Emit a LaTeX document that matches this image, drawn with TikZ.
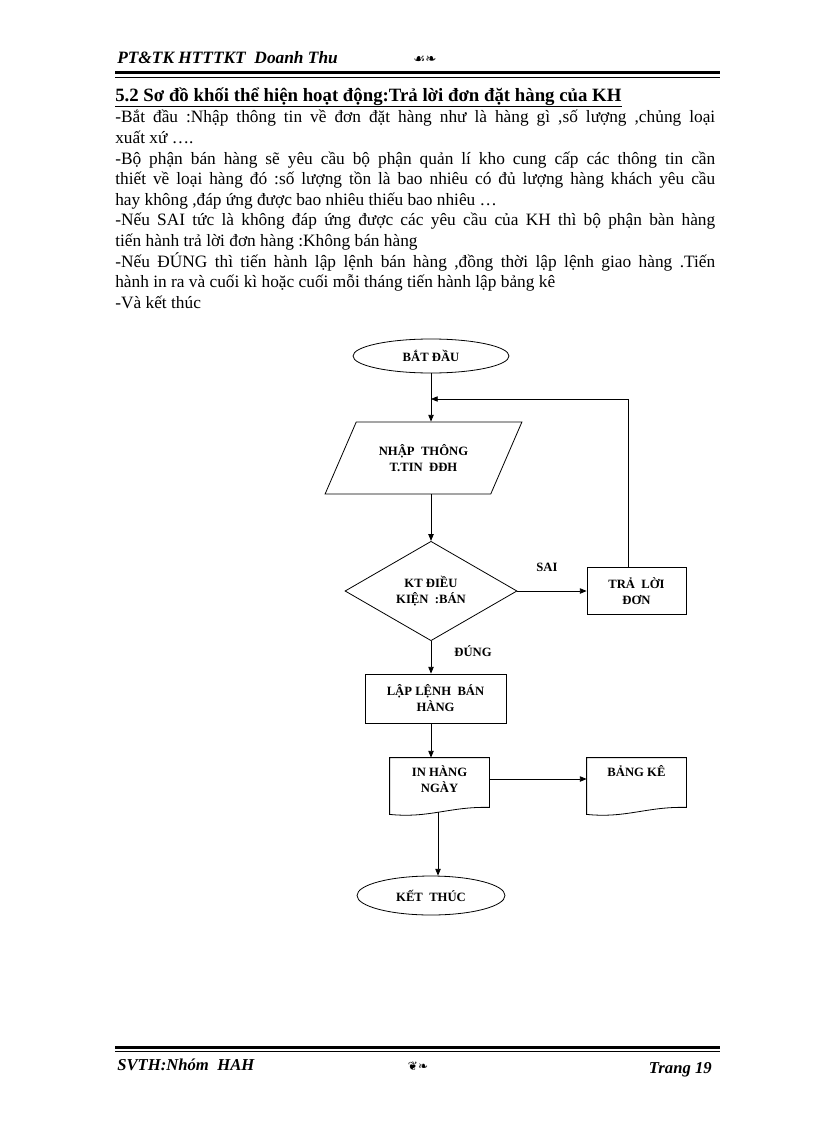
\documentclass[tikz,border=0pt]{standalone}
\usepackage{fontspec}
\setmainfont{Liberation Serif}
\newfontfamily\dejavu{DejaVu Sans}
\usetikzlibrary{calc,positioning,shapes.geometric,arrows.meta}
\tikzset{
	box/.style={draw, line width=0.6pt, font=\fontsize{9.5}{12}\selectfont\bfseries, align=center, inner sep=2pt},
	terminal/.style={box, ellipse},
	docbox/.style={box, draw=none},
	flow/.style={line width=0.6pt, -{Triangle[length=5pt,width=4pt]}},
	lbl/.style={font=\fontsize{9.5}{12}\selectfont\bfseries},
	rule/.style={line width=2.25pt},
	thinrule/.style={line width=0.5pt},
	pagetext/.style={font=\fontsize{12.5}{14}\selectfont\bfseries\itshape}
}

\begin{document}
\begin{tikzpicture}[x=0.75pt,y=-0.75pt]
	\useasboundingbox[fill=white] (0,0) rectangle (816,1123);

	\node[pagetext, font=\fontsize{13}{15}\selectfont\bfseries\itshape, anchor=base west, inner sep=0] (head) at (117,64) {PT\&TK HTTTKT\ \ Doanh Thu};
	\node[font=\dejavu\fontsize{10}{12}\selectfont] (headorn) at (425,60) {☙❧};
	\draw[rule] (115,73) -- (720,73);
	\draw[thinrule] (115,77.5) -- (720,77.5);

	\node[anchor=base west, inner sep=0, font=\fontsize{14.1}{16}\selectfont\bfseries] (title) at (115,102) {5.2 Sơ đồ khối thể hiện hoạt động:Trả\ lời đơn\ đặt hàng của KH};
	\draw[line width=0.9pt] ($(title.base west)+(0,4.5)$) -- ($(title.base east)+(0,4.5)$);
	\node[anchor=base west, inner sep=0] (body) at (115,123) {\parbox[t]{450pt}{\fontsize{13}{15.45}\selectfont
		\makebox[\linewidth][s]{-Bắt đầu :Nhập thông tin về đơn đặt hàng như là hàng gì ,số lượng ,chủng loại}\\
		xuất xứ ….\\
		\makebox[\linewidth][s]{-Bộ phận bán hàng sẽ yêu cầu bộ phận quản lí kho cung cấp các thông tin cần}\\
		\makebox[\linewidth][s]{thiết về loại hàng đó :số lượng tồn là bao nhiêu có đủ lượng hàng khách yêu cầu}\\
		hay không ,đáp ứng được bao nhiêu thiếu bao nhiêu …\\
		\makebox[\linewidth][s]{-Nếu SAI tức là không đáp ứng được các yêu cầu của KH thì bộ phận bàn hàng}\\
		tiến hành trả lời đơn hàng :Không\ bán hàng\\
		\makebox[\linewidth][s]{-Nếu ĐÚNG thì tiến hành lập lệnh bán hàng ,đồng thời lập lệnh giao hàng .Tiến}\\
		hành in ra và cuối kì hoặc cuối mỗi tháng tiến hành lập bảng kê\\
		-Và kết thúc}};

	\node[terminal, minimum width=117pt, minimum height=25.5pt] (start) at (431,356) {BẮT ĐẦU};
	\node[box, trapezium, trapezium left angle=56, trapezium right angle=124, trapezium stretches=true, minimum width=147.75pt, minimum height=54pt] (input) at (423.5,458) {NHẬP\ \ THÔNG\\T.TIN\ \ ĐĐH};
	\node[box, diamond, minimum width=129pt, minimum height=71.25pt, inner sep=0pt] (check) at (431,591) {KT ĐIỀU\\KIỆN\ \ :BÁN};
	\node[box, minimum width=74.25pt, minimum height=35.25pt] (reply) at (636.5,591) {TRẢ\ \ LỜI\\ĐƠN};
	\node[box, minimum width=105.75pt, minimum height=36.75pt] (order) at (435.5,698.5) {LẬP\ LỆNH\ \ BÁN\\HÀNG};
	\node[docbox, minimum width=74.25pt, minimum height=31.5pt] (daily) at (439.5,779) {IN HÀNG\\NGÀY};
	\node[docbox, minimum width=74.25pt, minimum height=31.5pt] (report) at (636.5,779) {BẢNG KÊ\\\mbox{}};
	\node[terminal, minimum width=111pt, minimum height=29.25pt] (finish) at (431,895.5) {KẾT\ \ THÚC};

	\foreach \n in {daily,report}
		\draw[line width=0.6pt] (\n.north west) -- (\n.north east) -- ($(\n.south east)+(0,7)$) .. controls ($(\n.south east)+(-40,6)$) and ($(\n.south west)+(40,18)$) .. ($(\n.south west)+(0,14)$) -- cycle;

	\node[lbl] (no) at (547,567) {SAI};
	\node[lbl] (yes) at (473,651) {ĐÚNG};

	\coordinate (join) at (431,399);
	\coordinate (dailyout) at ($(daily.south)+(-1.5,12)$);
	\draw[flow] (start.south) -- (start.south |- input.north);
	\draw[flow] (start.south |- input.south) -- (check.north);
	\draw[flow] (check.east) -- (reply.west);
	\draw[flow] ($(reply.north)+(-8,0)$) |- (join);
	\draw[flow] (check.south) -- (check.south |- order.north);
	\draw[flow] (check.south |- order.south) -- (check.south |- daily.north);
	\draw[flow] (daily.east) -- (report.west);
	\draw[flow] (dailyout) -- (dailyout |- finish.north);

	\draw[rule] (115,1047) -- (720,1047);
	\draw[thinrule] (115,1051) -- (720,1051);
	\node[pagetext, anchor=base west, inner sep=0] (foot) at (117,1070) {SVTH:Nhóm\ \ HAH};
	\node[font=\dejavu\fontsize{9}{10}\selectfont] (footorn) at (418,1066) {❦❧};
	\node[pagetext, anchor=base east, inner sep=0] (page) at (712,1073) {Trang 19};
\end{tikzpicture}
\end{document}
